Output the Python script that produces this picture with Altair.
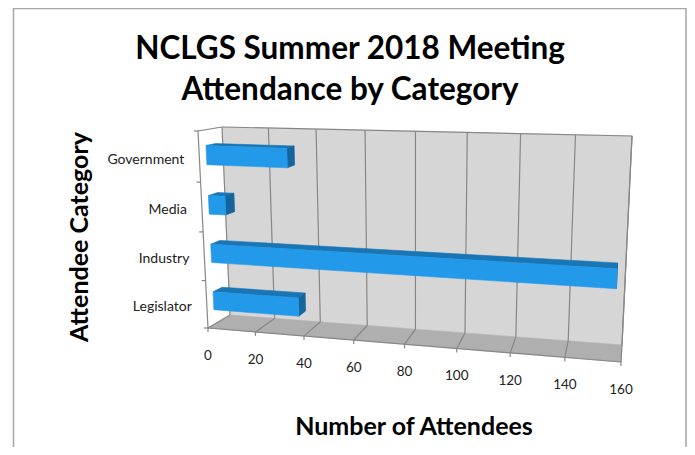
import altair as alt

categories = ["Legislator", "Industry", "Media", "Government"]
attendees = [36, 157, 7, 33]
x_ticks = [0, 20, 40, 60, 80, 100, 120, 140, 160]
title_lines = ["NCLGS Summer 2018 Meeting", "Attendance by Category"]
x_title = "Number of Attendees"
y_title = "Attendee Category"

V_MAX = 160
N = len(categories)
FONT = "Lato"


def homography(c):
    (x0, y0), (x1, y1), (x2, y2), (x3, y3) = c  # BL, BR, TR, TL
    dx1, dx2, sx = x1 - x2, x3 - x2, x0 - x1 + x2 - x3
    dy1, dy2, sy = y1 - y2, y3 - y2, y0 - y1 + y2 - y3
    den = dx1 * dy2 - dx2 * dy1
    g = (sx * dy2 - dx2 * sy) / den
    h = (dx1 * sy - sx * dy1) / den
    a, b, e = x1 - x0 + g * x1, x3 - x0 + h * x3, x0
    d, f, k = y1 - y0 + g * y1, y3 - y0 + h * y3, y0

    def map_(u, v):
        w = g * u + h * v + 1
        return (a * u + b * v + e) / w, (d * u + f * v + k) / w

    return map_


front = homography([(208, 328), (621, 362), (633, 146), (198, 131)])
back = homography([(230, 315), (622, 345), (632, 136), (222, 127)])


def project(value, cat, depth):
    fx, fy = front(value / V_MAX, cat / N)
    bx, by = back(value / V_MAX, cat / N)
    return fx + (bx - fx) * depth, fy + (by - fy) * depth


def shape_rows(shapes):
    rows = []
    for i, pts in enumerate(shapes):
        for j, (x, y) in enumerate(pts):
            rows.append({"id": i, "o": j, "x": x, "y": y})
    return rows


X = alt.X("x:Q", axis=None, scale=alt.Scale(domain=[8, 687], range=[0, 679], nice=False, zero=False))
Y = alt.Y("y:Q", axis=None, scale=alt.Scale(domain=[8, 447], range=[0, 439], nice=False, zero=False))


def poly(shapes, colour, sw=0.6):
    return alt.Chart(alt.Data(values=shape_rows(shapes))).mark_line(
        fill=colour, stroke=colour, strokeWidth=sw
    ).encode(x=X, y=Y, detail="id:N", order="o:Q")


def lines(shapes, colour="#878787", sw=1.2):
    return alt.Chart(alt.Data(values=shape_rows(shapes))).mark_line(
        stroke=colour, strokeWidth=sw
    ).encode(x=X, y=Y, detail="id:N", order="o:Q")


def closed(pts):
    return pts + [pts[0]]


wall = closed([project(0, 0, 1), project(V_MAX, 0, 1), project(V_MAX, N, 1), project(0, N, 1)])
floor = closed([project(0, 0, 0), project(V_MAX, 0, 0), project(V_MAX, 0, 1), project(0, 0, 1)])

grid = []
for v in x_ticks:
    grid.append([project(v, 0, 0), project(v, 0, 1), project(v, N, 1)])
frame = [
    [project(0, 0, 0), project(0, N, 0), project(0, N, 1)],
    [project(0, 0, 0), project(V_MAX, 0, 0)],
    [project(V_MAX, 0, 1), project(V_MAX, N, 1), project(0, N, 1)],
]
ticks = []
for v in x_ticks:
    p = project(v, 0, 0)
    ticks.append([p, (p[0], p[1] + 4)])
for c in range(N + 1):
    p = project(0, c, 0)
    ticks.append([p, (p[0] - 4, p[1])])

D0, D1 = 0.3, 0.7
GAP = 0.31
tops, sides, fronts = [], [], []
for i, v in enumerate(attendees):
    lo, hi = i + GAP, i + 1 - GAP
    tops.append(closed([project(0, hi, D0), project(v, hi, D0), project(v, hi, D1), project(0, hi, D1)]))
    sides.append(closed([project(v, lo, D0), project(v, lo, D1), project(v, hi, D1), project(v, hi, D0)]))
    fronts.append(closed([project(0, lo, D0), project(v, lo, D0), project(v, hi, D0), project(0, hi, D0)]))

cat_rows = []
for i, c in enumerate(categories):
    px, py = project(0, i + 0.5, 0)
    cat_rows.append({"x": px - 15, "y": py + 3, "t": c})
tick_rows = []
for v in x_ticks:
    px, py = project(v, 0, 0)
    tick_rows.append({"x": px, "y": py + 28, "t": str(v)})

cat_text = alt.Chart(alt.Data(values=cat_rows)).mark_text(
    align="right", baseline="middle", font=FONT, fontSize=14, color="#222222"
).encode(x=X, y=Y, text="t:N")
tick_text = alt.Chart(alt.Data(values=tick_rows)).mark_text(
    align="center", baseline="middle", font=FONT, fontSize=13.5, color="#222222"
).encode(x=X, y=Y, text="t:N")
title_text = alt.Chart(alt.Data(values=[
    {"x": 350, "y": 49.5, "t": title_lines[0]},
    {"x": 350, "y": 90.5, "t": title_lines[1]},
])).mark_text(
    align="center", baseline="middle", font=FONT, fontSize=31.5, fontWeight="bold", color="#000000"
).encode(x=X, y=Y, text="t:N")
xt_text = alt.Chart(alt.Data(values=[{"x": 414, "y": 427, "t": x_title}])).mark_text(
    align="center", baseline="middle", font=FONT, fontSize=25, fontWeight="bold", color="#000000"
).encode(x=X, y=Y, text="t:N")
yt_text = alt.Chart(alt.Data(values=[{"x": 80, "y": 237, "t": y_title}])).mark_text(
    align="center", baseline="middle", angle=270, font=FONT, fontSize=25, fontWeight="bold", color="#000000"
).encode(x=X, y=Y, text="t:N")

border = lines([[(686, 470), (686, 8.5), (13.5, 8.5), (13.5, 470)]], colour="#a6a6a6", sw=1.5)

chart = alt.layer(
    border,
    poly([wall], "#d6d6d6"),
    poly([floor], "#afafaf"),
    lines(grid),
    lines(frame),
    lines(ticks),
    poly(tops, "#1a75b5"),
    poly(sides, "#15649b"),
    poly(fronts, "#2299e9"),
    cat_text,
    tick_text,
    title_text,
    xt_text,
    yt_text,
).properties(
    width=679, height=439, padding=0, autosize=alt.AutoSizeParams(type="none")
).configure_view(stroke=None)

chart.save("out.html", embed_options={"renderer": "svg", "actions": False})
